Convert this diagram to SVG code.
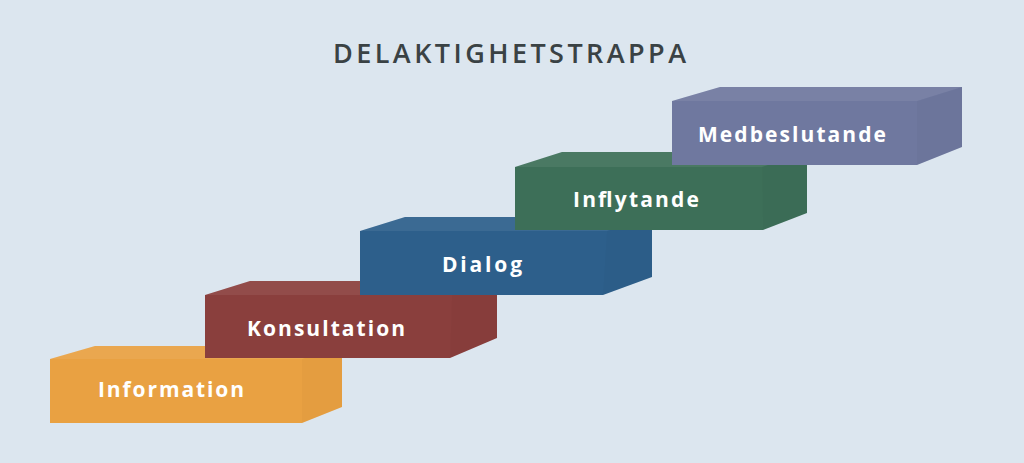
<svg xmlns="http://www.w3.org/2000/svg" width="1024" height="463" viewBox="0 0 1024 463">
  <style>
    .lbl { font-family: "Open Sans", "Liberation Sans", sans-serif; font-weight: bold; font-size: 21px; fill: #ffffff; }
    .title { font-family: "Open Sans", "Liberation Sans", sans-serif; font-weight: 600; font-size: 27px; fill: #3a4244; }
    .top { fill: #ffffff; opacity: 0.07; }
    .side { fill: #000000; opacity: 0.02; }
  </style>
  <rect x="0" y="0" width="1024" height="463" fill="#dce6ef"/>
  <text class="title" x="333" y="63" textLength="353" lengthAdjust="spacing">DELAKTIGHETSTRAPPA</text>

  <g id="step-information">
    <polygon points="50,359 95,346 342,346 342,407 302,423 50,423" fill="#e9a142"/>
    <polygon class="top" points="50,359 95,346 342,346 302,359"/>
    <polygon class="side" points="302,359 342,346 342,407 302,423"/>
    <text class="lbl" x="98" y="397" textLength="146" lengthAdjust="spacing">Information</text>
  </g>
  <g id="step-konsultation">
    <polygon points="205,295 250,281 497,281 497,338 450,358 205,358" fill="#8a3f3d"/>
    <polygon class="top" points="205,295 250,281 497,281 452,295"/>
    <polygon class="side" points="452,295 497,281 497,338 450,358"/>
    <text class="lbl" x="247" y="336" textLength="158" lengthAdjust="spacing">Konsultation</text>
  </g>
  <g id="step-dialog">
    <polygon points="360,231 405,217 652,217 652,277 603,295 360,295" fill="#2d5f8b"/>
    <polygon class="top" points="360,231 405,217 652,217 607,231"/>
    <polygon class="side" points="607,231 652,217 652,277 603,295"/>
    <text class="lbl" x="442" y="272" textLength="80" lengthAdjust="spacing">Dialog</text>
  </g>
  <g id="step-inflytande">
    <polygon points="515,167 562,152 807,152 807,213 763,230 515,230" fill="#3d6f58"/>
    <polygon class="top" points="515,167 562,152 807,152 762,167"/>
    <polygon class="side" points="762,167 807,152 807,213 763,230"/>
    <text class="lbl" x="573" y="207" textLength="126" lengthAdjust="spacing">Inflytande</text>
  </g>
  <g id="step-medbeslutande">
    <polygon points="672,101 720,87 962,87 962,147 917,165 672,165" fill="#6f789f"/>
    <polygon class="top" points="672,101 720,87 962,87 917,101"/>
    <polygon class="side" points="917,101 962,87 962,147 917,165"/>
    <text class="lbl" x="698" y="142" textLength="188" lengthAdjust="spacing">Medbeslutande</text>
  </g>
  <g id="connectors"></g>
</svg>
